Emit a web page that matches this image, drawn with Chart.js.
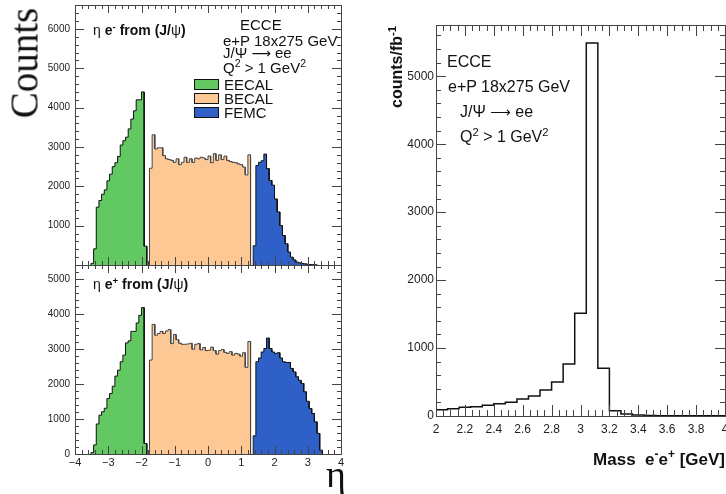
<!DOCTYPE html>
<html>
<head>
<meta charset="utf-8">
<script src="https://cdn.jsdelivr.net/npm/chart.js@4.4.0/dist/chart.umd.min.js"></script>
<style>
body { margin: 0; background: #fff; width: 726px; height: 494px; position: relative; overflow: hidden; font-family: "Liberation Sans", Arial, sans-serif; color: #111; }
canvas { position: absolute; }
.t { position: absolute; white-space: nowrap; line-height: 1; transform: translateY(-50%); }
.b { font-weight: bold; }
.n { font-weight: normal; }
.serif { font-family: "Liberation Serif", "Times New Roman", serif; }
sup { font-size: 70%; position: relative; top: -0.55em; vertical-align: baseline; line-height: 0; }
.rot { position: absolute; white-space: nowrap; line-height: 1; transform: translate(-50%, -50%) rotate(-90deg); }
.box { position: absolute; width: 23px; height: 9px; border: 1px solid #111; }
.arr { font-family: "DejaVu Sans", sans-serif; font-size: 90%; }
</style>
</head>
<body>
<canvas id="etaTop" width="360" height="265" style="left:0;top:0"></canvas>
<canvas id="etaBot" width="360" height="230" style="left:0;top:264px"></canvas>
<canvas id="mass" width="356" height="494" style="left:370px;top:0"></canvas>

<div class="rot serif" style="left:24px;top:63px;font-size:39px">Counts</div>
<div class="t serif" style="left:326px;top:474px;font-size:38px">η</div>

<div class="t b" style="left:93px;top:30px;font-size:14px"><span class="n">η</span> e<sup>-</sup> from (J/<span class="n">ψ</span>)</div>
<div class="t" style="left:240px;top:24px;font-size:15px">ECCE</div>
<div class="t" style="left:223px;top:40px;font-size:15px">e+P 18x275 GeV</div>
<div class="t" style="left:223px;top:53px;font-size:15px">J/Ψ <span class="arr">⟶</span> ee</div>
<div class="t" style="left:223px;top:67px;font-size:15px">Q<sup>2</sup> &gt; 1 GeV<sup>2</sup></div>
<div id="legend"></div>

<div class="t b" style="left:93px;top:284px;font-size:14px"><span class="n">η</span> e<sup>+</sup> from (J/<span class="n">ψ</span>)</div>

<div class="t" style="left:447px;top:62px;font-size:16px">ECCE</div>
<div class="t" style="left:448px;top:87px;font-size:16px">e+P 18x275 GeV</div>
<div class="t" style="left:460px;top:112px;font-size:16px">J/Ψ <span class="arr">⟶</span> ee</div>
<div class="t" style="left:460px;top:137px;font-size:16px">Q<sup>2</sup> &gt; 1 GeV<sup>2</sup></div>
<div class="rot b" style="left:397px;top:67px;font-size:16px">counts/fb<sup>-1</sup></div>
<div class="t b" style="right:1px;top:459px;font-size:17px">Mass&nbsp; e<sup>-</sup>e<sup>+</sup> [GeV]</div>

<script>
const etaBin = 0.08;
const detectors = ['EECAL', 'BECAL', 'FEMC'];
const detStart = [-3.52, -1.76, 1.36];

const topEecal = [40, 410, 1470, 1640, 1800, 1910, 2140, 2310, 2500, 2600, 2760, 3050, 3160, 3250, 3460, 3710, 3920, 4200, 4200, 4400, 480];
const topBecal = [2460, 3310, 2950, 2980, 2980, 2780, 2700, 2680, 2660, 2610, 2700, 2550, 2610, 2740, 2610, 2700, 2610, 2720, 2700, 2740, 2720, 2680, 2770, 2600, 2830, 2660, 2800, 2680, 2770, 2660, 2630, 2610, 2600, 2570, 2550, 2490, 2290, 2800];
const topFemc = [490, 2530, 2610, 2650, 2820, 2450, 2150, 2030, 1680, 1350, 1000, 750, 540, 330, 200, 130, 75, 55, 40, 30, 20, 12, 8, 5];

const botEecal = [40, 260, 860, 1110, 1210, 1310, 1590, 1730, 1940, 2230, 2400, 2640, 2830, 3180, 3240, 3510, 3510, 3750, 3970, 4190, 300];
const botBecal = [2690, 3710, 3400, 3450, 3510, 3450, 3520, 3560, 3160, 3420, 3270, 3170, 3140, 3140, 3150, 3170, 3000, 3140, 3160, 2980, 3050, 2960, 2970, 3060, 2960, 2860, 2960, 2990, 2910, 2880, 2930, 2830, 2880, 2860, 2800, 2900, 2480, 3220];
const botFemc = [520, 2640, 2750, 2920, 3020, 3320, 3020, 2920, 2880, 2900, 2750, 2640, 2620, 2620, 2450, 2350, 2210, 2110, 2020, 1780, 1510, 1300, 1160, 920, 590, 110];

const massStart = 2.0;
const massBin = 0.08;
const massCounts = [93, 108, 128, 137, 157, 182, 201, 250, 295, 383, 501, 766, 1512, 5490, 702, 79, 29, 15, 8, 5, 4, 3, 3, 2, 2];

const etaTicks = [-4, -3, -2, -1, 0, 1, 2, 3, 4];
const topCountTicks = [1000, 2000, 3000, 4000, 5000, 6000];
const botCountTicks = [0, 1000, 2000, 3000, 4000, 5000];
const massTicks = [2, 2.2, 2.4, 2.6, 2.8, 3, 3.2, 3.4, 3.6, 3.8, 4];
const massCountTicks = [0, 1000, 2000, 3000, 4000, 5000];

const fills = ['#62c862', '#fec895', '#2f60c8'];
const lines = ['#111', '#444', '#111'];
const font = "'Liberation Sans', Arial, sans-serif";

Chart.defaults.font.family = font;
Chart.defaults.color = '#222';

const histPoints = (start, width, counts) => {
	const pts = [{x: start, y: 0}];
	counts.forEach((c, i) => {
		pts.push({x: start + i * width, y: c}, {x: start + (i + 1) * width, y: c});
	});
	pts.push({x: start + counts.length * width, y: 0});
	return pts;
};

const setTicks = values => s => { s.ticks = values.map(v => ({value: v})); };
const noGrid = {display: false, drawTicks: false, tickLength: 0};

// ROOT style frame with inward ticks on all four sides
const frame = {
	id: 'frame',
	afterDatasetsDraw(chart, args, o) {
		const {ctx, chartArea: a, scales: {x, y}} = chart;
		ctx.save();
		ctx.strokeStyle = '#444';
		ctx.lineWidth = 1;
		ctx.beginPath();
		const marks = (scale, step, len, horiz) => {
			for (let i = Math.ceil(scale.min / step - 1e-6); i <= Math.floor(scale.max / step + 1e-6); i++) {
				const p = Math.round(scale.getPixelForValue(i * step)) + 0.5;
				if (horiz) {
					ctx.moveTo(p, a.bottom); ctx.lineTo(p, a.bottom - len);
					ctx.moveTo(p, a.top); ctx.lineTo(p, a.top + len);
				} else {
					ctx.moveTo(a.left, p); ctx.lineTo(a.left + len, p);
					ctx.moveTo(a.right, p); ctx.lineTo(a.right - len, p);
				}
			}
		};
		marks(x, o.xMajor, o.xMajorLen, true);
		marks(x, o.xMinor, o.xMinorLen, true);
		marks(y, o.yMajor, o.yMajorLen, false);
		marks(y, o.yMinor, o.yMinorLen, false);
		ctx.stroke();
		ctx.strokeRect(Math.round(a.left) + 0.5, Math.round(a.top) + 0.5, Math.round(a.right - a.left), Math.round(a.bottom - a.top));
		ctx.restore();
	}
};

const etaDatasets = (series) => series.map((counts, i) => ({
	label: detectors[i],
	data: histPoints(detStart[i], etaBin, counts),
	borderColor: lines[i],
	backgroundColor: fills[i],
	borderWidth: 1,
	fill: 'origin',
	pointRadius: 0,
	tension: 0
}));

const etaChart = (id, series, yMax, yTicks, showX, pad, xHeight) => new Chart(document.getElementById(id), {
	type: 'line',
	data: {datasets: etaDatasets(series)},
	options: {
		responsive: false,
		animation: false,
		devicePixelRatio: 1,
		layout: {padding: pad},
		plugins: {
			legend: {display: false},
			tooltip: {enabled: false},
			frame: {xMajor: 1, xMinor: 0.2, xMajorLen: 8, xMinorLen: 4, yMajor: 1000, yMinor: 200, yMajorLen: 9, yMinorLen: 4}
		},
		scales: {
			x: {
				type: 'linear', min: -4, max: 4,
				grid: noGrid, border: {display: false},
				afterBuildTicks: setTicks(etaTicks),
				ticks: {display: showX, autoSkip: false, maxRotation: 0, padding: 2, font: {size: 11},
					callback: v => (v < 0 ? '\u2212' + Math.abs(v) : String(v))},
				afterFit: s => { s.height = xHeight; s.paddingLeft = 0; s.paddingRight = 0; }
			},
			y: {
				type: 'linear', min: 0, max: yMax,
				grid: noGrid, border: {display: false},
				afterBuildTicks: setTicks(yTicks),
				ticks: {autoSkip: false, padding: 5, font: {size: 10}, callback: v => String(v)},
				afterFit: s => { s.width = 75; s.paddingTop = 0; s.paddingBottom = 0; }
			}
		}
	},
	plugins: [frame]
});

etaChart('etaTop', [topEecal, topBecal, topFemc], 6610, topCountTicks, false, {top: 5, right: 19, left: 0, bottom: 0}, 0);
etaChart('etaBot', [botEecal, botBecal, botFemc], 5410, botCountTicks, true, {top: 1, right: 19, left: 0, bottom: 0}, 40);

new Chart(document.getElementById('mass'), {
	type: 'line',
	data: {
		datasets: [{
			label: 'Mass e-e+',
			data: histPoints(massStart, massBin, massCounts),
			borderColor: '#111',
			borderWidth: 1.5,
			fill: false,
			pointRadius: 0,
			tension: 0
		}]
	},
	options: {
		responsive: false,
		animation: false,
		devicePixelRatio: 1,
		layout: {padding: {top: 25, right: 1, left: 0, bottom: 0}},
		plugins: {
			legend: {display: false},
			tooltip: {enabled: false},
			frame: {xMajor: 0.2, xMinor: 0.05, xMajorLen: 11, xMinorLen: 6, yMajor: 1000, yMinor: 200, yMajorLen: 10, yMinorLen: 5}
		},
		scales: {
			x: {
				type: 'linear', min: 2, max: 4,
				grid: noGrid, border: {display: false},
				afterBuildTicks: setTicks(massTicks),
				ticks: {autoSkip: false, maxRotation: 0, padding: 6, font: {size: 12},
					callback: v => String(parseFloat(v.toFixed(2)))},
				afterFit: s => { s.height = 78; s.paddingLeft = 0; s.paddingRight = 0; }
			},
			y: {
				type: 'linear', min: 0, max: 5754,
				grid: noGrid, border: {display: false},
				afterBuildTicks: setTicks(massCountTicks),
				ticks: {autoSkip: false, padding: 2, font: {size: 12}, callback: v => String(v)},
				afterFit: s => { s.width = 66; s.paddingTop = 0; s.paddingBottom = 0; }
			}
		}
	},
	plugins: [frame]
});

const legend = document.getElementById('legend');
detectors.forEach((name, i) => {
	const cy = 84 + i * 14;
	legend.insertAdjacentHTML('beforeend',
		`<div class="box" style="left:194px;top:${cy - 5}px;background:${fills[i]}"></div>` +
		`<div class="t" style="left:224px;top:${cy}px;font-size:15px">${name}</div>`);
});
</script>
</body>
</html>
